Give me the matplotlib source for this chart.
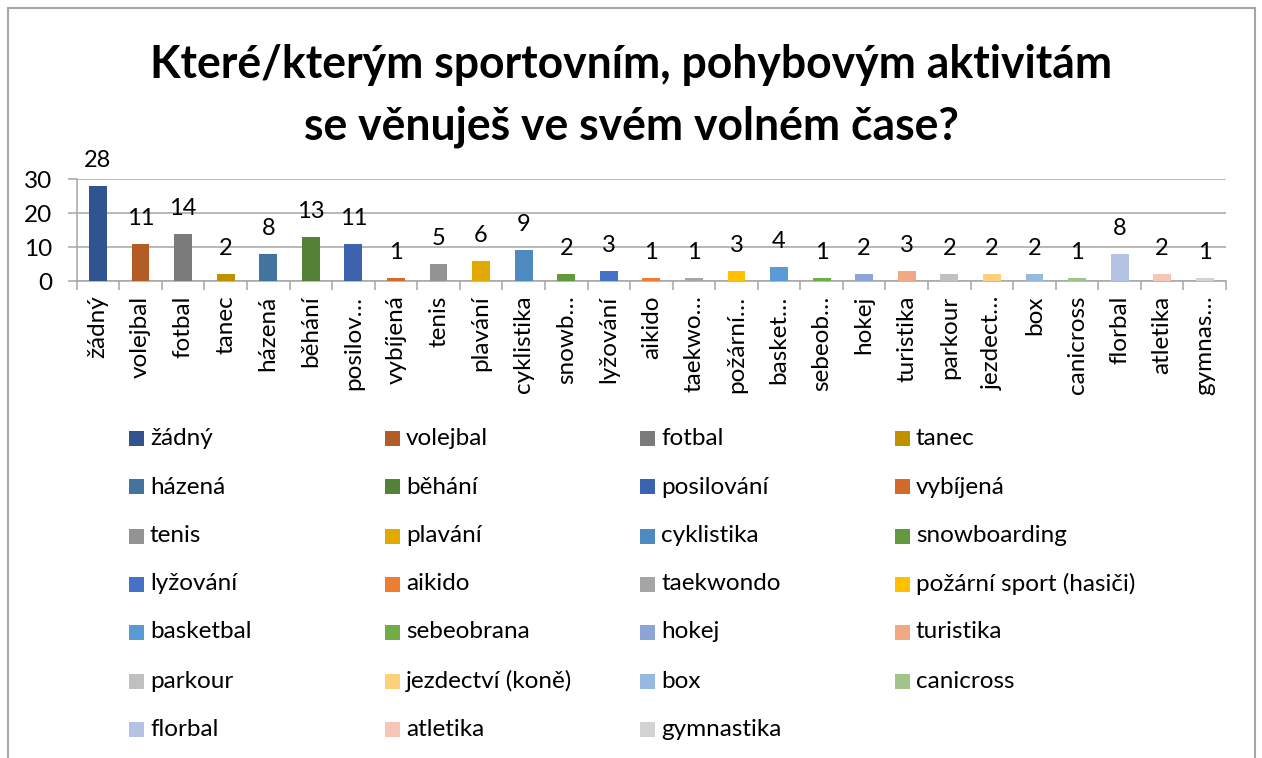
import matplotlib
matplotlib.use("Agg")
import matplotlib.pyplot as plt
from matplotlib.patches import Rectangle

# ---- data ----
categories = ["žádný", "volejbal", "fotbal", "tanec", "házená", "běhání", "posilování",
              "vybíjená", "tenis", "plavání", "cyklistika", "snowboarding", "lyžování",
              "aikido", "taekwondo", "požární sport (hasiči)", "basketbal", "sebeobrana",
              "hokej", "turistika", "parkour", "jezdectví (koně)", "box", "canicross",
              "florbal", "atletika", "gymnastika"]
tick_labels = ["žádný", "volejbal", "fotbal", "tanec", "házená", "běhání", "posilov…",
               "vybíjená", "tenis", "plavání", "cyklistika", "snowb…", "lyžování",
               "aikido", "taekwo…", "požární…", "basket…", "sebeob…",
               "hokej", "turistika", "parkour", "jezdect…", "box", "canicross",
               "florbal", "atletika", "gymnas…"]
values = [28, 11, 14, 2, 8, 13, 11, 1, 5, 6, 9, 2, 3, 1, 1, 3, 4, 1, 2, 3, 2, 2, 2, 1, 8, 2, 1]
colors = ["#31538F", "#B45C25", "#7B7B7B", "#BF9000", "#43739F", "#538135",
          "#3D63AE", "#D16A2B", "#939393", "#E2A900", "#4E8ABF", "#62993E",
          "#4472C4", "#ED7D31", "#A5A5A5", "#FFC000", "#5B9BD5", "#70AD47",
          "#8FA4D6", "#F1A983", "#C0C0C0", "#FFD07C", "#96B9E0", "#A0C58B",
          "#B4C3E4", "#F5C6B5", "#D3D3D3"]
title_lines = ["Které/kterým sportovním, pohybovým aktivitám",
               "se věnuješ ve svém volném čase?"]
yticks = [0, 10, 20, 30]

W, H = 1262, 758
plt.rcParams['font.family'] = ['Lato', 'DejaVu Sans']
fig = plt.figure(figsize=(W / 100, H / 100), dpi=100)

def fx(px):
    return px / W

def fy(py):
    return 1 - py / H

TXT = 17.5
NUM = 17

# border
fig.add_artist(Rectangle((fx(7.5), -0.02), fx(1255 - 7.5), fy(8) + 0.02,
                         transform=fig.transFigure, fill=False,
                         ec="#A6A6A6", lw=1.5))

# title
t1 = fig.text(fx(631), fy(78), title_lines[0], ha="center", va="baseline",
              fontsize=28, fontweight="bold", color="black")
fig.canvas.draw()
r = fig.canvas.get_renderer()
wpx = t1.get_window_extent(r).width
fs = 28 * 962 / wpx
t1.set_fontsize(fs)
fig.text(fx(631), fy(140), title_lines[1], ha="center", va="baseline",
         fontsize=fs, fontweight="bold", color="black")

# axes
left, right, top, bottom = 76.7, 1226, 179.3, 281
ax = fig.add_axes([fx(left), fy(bottom), fx(right - left), (bottom - top) / H])
x = list(range(len(categories)))
bars = ax.bar(x, values, width=0.42, color=colors, zorder=3)
ax.set_xlim(-0.5, len(categories) - 0.5)
ax.set_ylim(0, 30)
ax.set_yticks(yticks)
ax.set_yticklabels([str(v) for v in yticks], fontsize=NUM + 0.5)
ax.yaxis.grid(True, color="#A6A6A6", lw=1.1, zorder=0)
ax.set_axisbelow(True)
for s in ["top", "right"]:
    ax.spines[s].set_visible(False)
for s in ["left", "bottom"]:
    ax.spines[s].set_color("#A6A6A6")
    ax.spines[s].set_linewidth(1.1)
ax.tick_params(axis="y", length=6.5, width=1.1, color="#A6A6A6", pad=11, labelcolor="black")
ax.set_xticks(x)
ax.set_xticklabels(tick_labels, rotation=90, fontsize=TXT, va="top", ha="center")
ax.tick_params(axis="x", which="major", length=0, pad=10.5)
ax.set_xticks([i - 0.5 for i in range(len(categories) + 1)], minor=True)
ax.tick_params(axis="x", which="minor", length=6.5, width=1.1, color="#A6A6A6", direction="out")

for xi, v in zip(x, values):
    ax.annotate(str(v), (xi, v), xytext=(0, 19), textcoords="offset pixels",
                ha="center", va="baseline", fontsize=NUM, color="black",
                annotation_clip=False)

# legend (row-major, 4 columns)
col_x = [129, 385, 640, 895]
row_y = [438, 487, 536, 584, 632, 681, 729]
msz = 15
for i, (name, c) in enumerate(zip(categories, colors)):
    rr, cc = divmod(i, 4)
    mx, my = col_x[cc], row_y[rr]
    fig.add_artist(Rectangle((fx(mx), fy(my + msz / 2)), fx(msz), msz / H,
                             transform=fig.transFigure, fc=c, ec="none"))
    fig.text(fx(mx + 21), fy(my), name, ha="left", va="center",
             fontsize=TXT, color="black")

fig.savefig("out.png", dpi=100)
